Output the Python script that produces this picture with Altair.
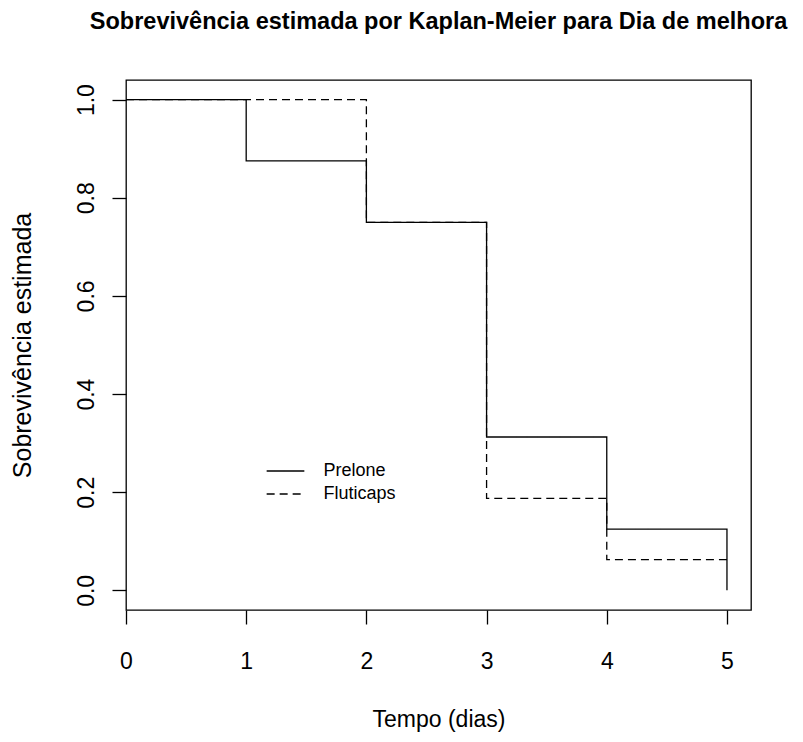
import altair as alt
import pandas as pd

# Kaplan-Meier estimates
prelone_t = [0, 1, 2, 3, 4, 5]
prelone_s = [1.0, 0.875, 0.75, 0.3125, 0.125, 0.0]
fluti_t = [0, 2, 3, 4, 5]
fluti_s = [1.0, 0.75, 0.1875, 0.0625, 0.0625]
groups = ["Prelone", "Fluticaps"]
x_ticks = [0, 1, 2, 3, 4, 5]
y_ticks = [0.0, 0.2, 0.4, 0.6, 0.8, 1.0]

df = pd.concat([
    pd.DataFrame({"t": prelone_t, "s": prelone_s, "g": groups[0], "o": range(len(prelone_t))}),
    pd.DataFrame({"t": fluti_t, "s": fluti_s, "g": groups[1], "o": range(len(fluti_t))}),
])

FONT = "Liberation Sans"

chart = alt.Chart(df).mark_line(
    interpolate="step-after", color="black", strokeWidth=1.3
).encode(
    x=alt.X("t:Q", scale=alt.Scale(domain=[0, 5.2], nice=False, zero=False),
            axis=alt.Axis(values=x_ticks, format="d", title="Tempo (dias)",
                          grid=False, domain=False, tickSize=14, tickColor="black",
                          tickWidth=1.3, labelFontSize=23, labelPadding=26,
                          labelFlush=False,
                          labelColor="black", labelFont=FONT,
                          titleFont=FONT, titleFontSize=23, titleFontWeight="normal",
                          titleColor="black", titleBaseline="alphabetic",
                          titleX=312.5, titleY=116)),
    y=alt.Y("s:Q", scale=alt.Scale(domain=[-0.04, 1.04], nice=False, zero=False),
            axis=alt.Axis(values=y_ticks, format=".1f", title="Sobrevivência estimada",
                          grid=False, domain=False, tickSize=14, tickColor="black",
                          tickWidth=1.3, labelFontSize=23, labelAngle=270,
                          labelAlign="center", labelBaseline="alphabetic",
                          labelFlush=False,
                          labelPadding=19, labelColor="black", labelFont=FONT,
                          titleFont=FONT, titleFontSize=25, titleFontWeight="normal",
                          titleColor="black", titleAngle=270, titleAlign="center",
                          titleBaseline="alphabetic", titleX=-96, titleY=265)),
    strokeDash=alt.StrokeDash("g:N",
        scale=alt.Scale(domain=groups, range=[[1, 0], [8, 5]]),
        legend=alt.Legend(title=None, orient="none", legendX=145.5, legendY=377,
                          symbolType="M-1.45,0H1.45", symbolSize=676,
                          symbolStrokeColor="black", symbolStrokeWidth=1.3,
                          labelFont=FONT, labelFontSize=18, labelColor="black",
                          labelOffset=24, labelBaseline="middle", rowPadding=0,
                          padding=0)),
    order="o:Q",
).properties(
    width=625,
    height=530,
    title=alt.Title("Sobrevivência estimada por Kaplan-Meier para Dia de melhora",
                    font=FONT, fontSize=23.5, fontWeight="bold", color="black",
                    anchor="middle", baseline="alphabetic", offset=28),
    autosize=alt.AutoSizeParams(type="none"),
    padding={"left": 118, "top": 72, "right": 44, "bottom": 124},
    background="white",
).configure_view(stroke="black", strokeWidth=1.3)

chart.save("out.html", embed_options={"renderer": "svg", "actions": False})
